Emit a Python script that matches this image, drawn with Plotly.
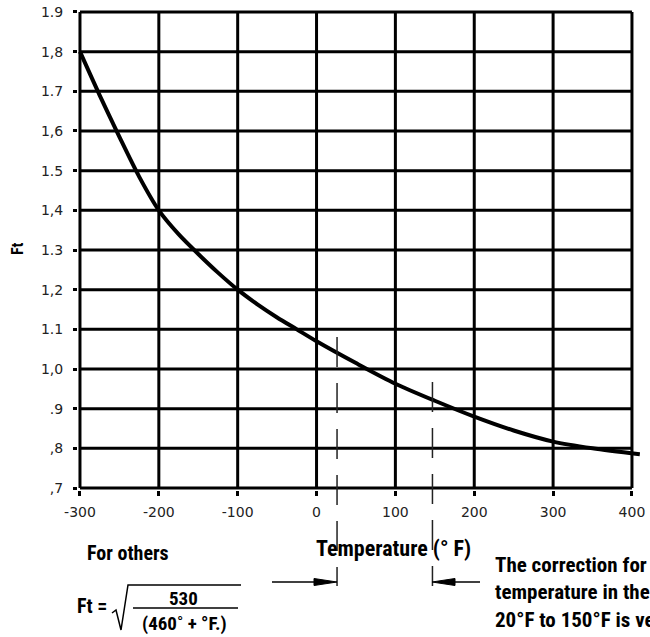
import plotly.graph_objects as go

# Ft correction curve
temp_f = [-300, -275, -250, -225, -200, -175, -150, -125, -100, -75, -50, -25,
          0, 50, 100, 150, 200, 250, 300, 350, 410]
ft = [1.80, 1.69, 1.585, 1.485, 1.40, 1.34, 1.29, 1.243, 1.20, 1.163, 1.13, 1.10,
      1.07, 1.015, 0.963, 0.92, 0.88, 0.845, 0.817, 0.80, 0.785]

x_ticks = [-300, -200, -100, 0, 100, 200, 300, 400]
x_labels = ["-300", "-200", "-100", "0", "100", "200", "300", "400"]
y_ticks = [1.9, 1.8, 1.7, 1.6, 1.5, 1.4, 1.3, 1.2, 1.1, 1.0, 0.9, 0.8, 0.7]
y_labels = ["1.9", "1,8", "1.7", "1,6", "1.5", "1,4", "1.3", "1,2",
            "1.1", "1,0", ".9", ",8", ",7"]
band_f = [26, 147]  # 20°F .. 150°F band markers

W, H = 650, 637
ML, MR, MT, MB = 78, 10, 10, 147

THIN = "DejaVu Sans, sans-serif"
BOLD = "Roboto Condensed, Liberation Sans Narrow, sans-serif"


def fx(px):
    # page pixel -> paper x
    return (px - ML) / (W - ML - MR)


def fy(py):
    # page pixel -> paper y
    return (H - MB - py) / (H - MT - MB)


fig = go.Figure()
fig.add_trace(go.Scatter(
    x=temp_f, y=ft, mode="lines", line_shape="spline",
    line=dict(color="black", width=4, smoothing=0.8), hoverinfo="skip",
))

shapes = []
for xv in x_ticks:
    shapes.append(dict(type="line", xref="x", yref="y", x0=xv, x1=xv,
                       y0=min(y_ticks), y1=max(y_ticks), layer="below",
                       line=dict(color="black", width=3)))
for yv in y_ticks:
    shapes.append(dict(type="line", xref="x", yref="y", x0=min(x_ticks),
                       x1=max(x_ticks), y0=yv, y1=yv, layer="below",
                       line=dict(color="black", width=3)))

# dashed band lines reaching below the axis
for xv, top in zip(band_f, [337, 382]):
    shapes.append(dict(type="line", xref="x", yref="paper", x0=xv, x1=xv,
                       y0=fy(top), y1=fy(586),
                       line=dict(color="#222", width=1.5, dash="30px,16px")))

# arrows pointing at the band
ya = 582
shapes += [
    dict(type="line", xref="paper", yref="paper", x0=fx(272), x1=fx(316),
         y0=fy(ya), y1=fy(ya), line=dict(color="black", width=1.5)),
    dict(type="path", xref="paper", yref="paper", fillcolor="black",
         line=dict(color="black", width=1),
         path=f"M {fx(314)} {fy(ya - 3.5)} L {fx(337)} {fy(ya)} L {fx(314)} {fy(ya + 3.5)} Z"),
    dict(type="line", xref="paper", yref="paper", x0=fx(453), x1=fx(480),
         y0=fy(ya), y1=fy(ya), line=dict(color="black", width=1.5)),
    dict(type="path", xref="paper", yref="paper", fillcolor="black",
         line=dict(color="black", width=1),
         path=f"M {fx(455)} {fy(ya - 3.5)} L {fx(432)} {fy(ya)} L {fx(455)} {fy(ya + 3.5)} Z"),
]

# square root sign and fraction bar
shapes += [
    dict(type="path", xref="paper", yref="paper",
         line=dict(color="black", width=1.5),
         path=(f"M {fx(112)} {fy(613)} L {fx(116)} {fy(610)} L {fx(121)} {fy(630)} "
               f"L {fx(128)} {fy(585)} L {fx(241)} {fy(585)}")),
    dict(type="line", xref="paper", yref="paper", x0=fx(133), x1=fx(238),
         y0=fy(608), y1=fy(608), line=dict(color="black", width=1.5)),
]


def label(text, px, py, size, xanchor="center", yanchor="middle", **kw):
    return dict(text=text, xref="paper", yref="paper", x=fx(px), y=fy(py),
                xanchor=xanchor, yanchor=yanchor, showarrow=False,
                font=dict(family=BOLD, size=size, color="black", weight="bold"),
                **kw)


annotations = [
    label("Ft", 17, 249, 16, textangle=-90),
    label("For others", 128, 553, 20),
    label("Temperature (° F)", 393, 548, 22),
    label("Ft =", 92, 606, 20),
    label("530", 183, 598, 19),
    label("(460˚ + °F.)", 184, 623, 19),
    label("The correction for<br>temperature in the range<br>20°F to 150°F is very small<br>variation of density",
          493, 551, 21, xanchor="left", yanchor="top", align="left"),
]

fig.update_layout(
    width=W, height=H,
    margin=dict(l=ML, r=MR, t=MT, b=MB),
    plot_bgcolor="white", paper_bgcolor="white",
    showlegend=False,
    shapes=shapes,
    annotations=annotations,
)
fig.update_xaxes(
    range=[-302.5, 410.2], tickvals=x_ticks, ticktext=x_labels,
    ticks="outside", ticklen=5, tickwidth=3, tickcolor="black",
    showgrid=False, zeroline=False, showline=False, automargin=False,
    tickfont=dict(family=THIN, size=14, color="#222"), ticklabelstandoff=4,
)
fig.update_yaxes(
    range=[0.695, 1.905], tickvals=y_ticks, ticktext=y_labels,
    ticks="outside", ticklen=4, tickwidth=3, tickcolor="black",
    showgrid=False, zeroline=False, showline=False, automargin=False,
    tickfont=dict(family=THIN, size=14, color="#222"), ticklabelstandoff=7,
)

# drop the default 8px body margin so the figure sits at the page corner
fig.write_html("out.html", config={"displayModeBar": False},
               post_script="document.body.style.margin = '0';")
